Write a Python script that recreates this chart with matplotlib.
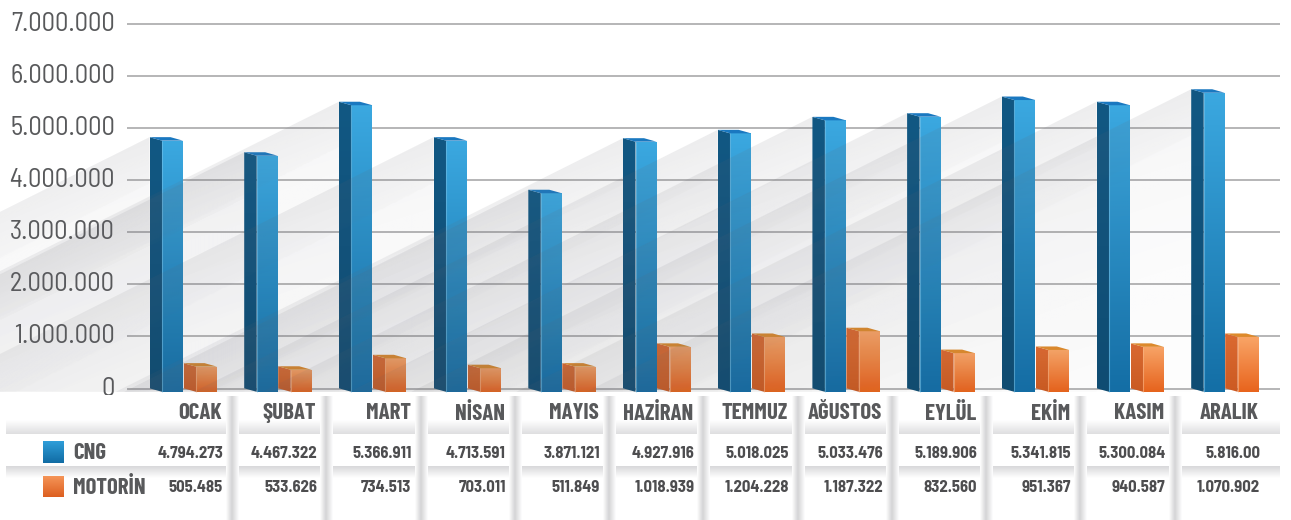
import numpy as np
import matplotlib
matplotlib.use("Agg")
import matplotlib.pyplot as plt
from matplotlib.patches import Polygon
from matplotlib import transforms
import matplotlib.font_manager as fm
from matplotlib.colors import to_rgb

# ---------------- data ----------------
months = ["OCAK", "ŞUBAT", "MART", "NİSAN", "MAYIS", "HAZİRAN",
          "TEMMUZ", "AĞUSTOS", "EYLÜL", "EKİM", "KASIM", "ARALIK"]
series_names = ["CNG", "MOTORİN"]
# bar heights as drawn in the picture
cng_bars = [4760000, 4470000, 5440000, 4760000, 3750000, 4740000,
            4900000, 5150000, 5220000, 5540000, 5440000, 5680000]
motorin_bars = [420000, 360000, 580000, 390000, 420000, 800000,
                990000, 1100000, 680000, 740000, 800000, 990000]
# table texts as printed
cng_table = ["4.794.273", "4.467.322", "5.366.911", "4.713.591", "3.871.121", "4.927.916",
             "5.018.025", "5.033.476", "5.189.906", "5.341.815", "5.300.084", "5.816.00"]
motorin_table = ["505.485", "533.626", "734.513", "703.011", "511.849", "1.018.939",
                 "1.204.228", "1.187.322", "832.560", "951.367", "940.587", "1.070.902"]
y_ticks = [0, 1000000, 2000000, 3000000, 4000000, 5000000, 6000000, 7000000]

# ---------------- fonts ----------------
avail = {f.name for f in fm.fontManager.ttflist}


def pick(*names):
    for n in names:
        if n in avail:
            return n
    return "DejaVu Sans"


F_HEAD = pick("Barlow Condensed", "Asap Condensed", "Archivo Narrow")
F_VAL = pick("Barlow Semi Condensed", "Barlow Condensed", "Asap Condensed")
F_TICK = pick("Barlow Semi Condensed", "Roboto")

W, H = 1291, 520
fig = plt.figure(figsize=(W / 100, H / 100), dpi=100)
ax = fig.add_axes([0, 0, 1, 1])
ax.axis("off")

# layout (pixel -> data helpers; layout only)
XPX0, XSC = 183.0, 94.7
YPX0, YSC = 388.5, 52.07


def xd(px):
    return (px - XPX0) / XSC


def yd(px):
    return (YPX0 - px) / YSC * 1e6


XL, XR = xd(0), xd(W)
YT, YB = yd(0), yd(H)
ax.set_xlim(XL, XR)
ax.set_ylim(YB, YT)

blend = transforms.blended_transform_factory(ax.transData, ax.transAxes)


def yf(px):
    return 1 - px / H


SIDE = 12.5 / XSC
FRONT = 21.0 / XSC
DEPTH = 3.5 / YSC * 1e6
BASE = yd(391.8)


def grad_fill(verts, c_top, c_bot, z, transform=None, n=64, horizontal=False):
    tr = ax.transData if transform is None else transform
    poly = Polygon(verts, closed=True, fc="none", ec="none", transform=tr)
    ax.add_patch(poly)
    xs = [v[0] for v in verts]
    ys = [v[1] for v in verts]
    t = np.linspace(0, 1, n)
    c1, c2 = np.array(to_rgb(c_top)), np.array(to_rgb(c_bot))
    cols = c1[None, :] * (1 - t[:, None]) + c2[None, :] * t[:, None]
    img = cols[:, None, :] if not horizontal else cols[None, :, :]
    im = ax.imshow(img, extent=(min(xs), max(xs), min(ys), max(ys)), origin="upper",
                   aspect="auto", zorder=z, interpolation="bilinear", transform=tr)
    im.set_clip_path(poly)
    return im


def draw_box(xl, xr, top, front_cols, side_cols, top_col, edge_col, z):
    grad_fill([(xl, BASE), (xr, BASE), (xr, top), (xl, top)], front_cols[0], front_cols[1], z)
    grad_fill([(xl - SIDE, BASE + DEPTH), (xl, BASE), (xl, top), (xl - SIDE, top + DEPTH)],
              side_cols[0], side_cols[1], z)
    ax.add_patch(Polygon([(xl - SIDE, top + DEPTH), (xl, top), (xr, top), (xr - SIDE, top + DEPTH)],
                         closed=True, fc=top_col, ec="none", zorder=z + 0.01))
    ax.plot([xl, xl], [BASE, top], color=edge_col, lw=0.8, alpha=0.6, zorder=z + 0.02,
            solid_capstyle="butt")


def draw_shadow(x0, ytop, z):
    m = 0.5 * XSC * 1e6 / YSC  # value per index unit
    xb = x0 - (ytop - BASE) / m
    xe = max(xb, XL)
    ye = ytop - m * (x0 - xe)
    verts = [(x0, ytop), (xe, ye), (xe, BASE), (x0, BASE)]
    poly = Polygon(verts, closed=True, fc="none", ec="none")
    ax.add_patch(poly)
    nx, ny = 240, 240
    gx = np.linspace(xe, x0, nx)
    gy = np.linspace(ytop, BASE, ny)
    X, Y = np.meshgrid(gx, gy)
    line = ytop - m * (x0 - X)
    dpx = np.clip((line - Y) / 1e6 * YSC, 0, None)
    hx = (x0 - X) * XSC  # pixels left of the bar
    alpha = np.where(dpx < 46, 0.12 - 0.045 * dpx / 46, 0.05 * np.exp(-(dpx - 46) / 170))
    alpha = alpha * (0.75 + 0.25 * np.exp(-hx / 200))
    img = np.zeros((ny, nx, 4))
    img[..., 0] = 0.40
    img[..., 1] = 0.40
    img[..., 2] = 0.44
    img[..., 3] = alpha
    im = ax.imshow(img, extent=(xe, x0, BASE, ytop), origin="upper", aspect="auto",
                   zorder=z, interpolation="bilinear")
    im.set_clip_path(poly)


# ---------------- grid + y labels ----------------
ax.hlines(y_ticks, xd(127), xd(1280), colors="#b5b5b7", lw=1.4, zorder=1)
for v in y_ticks:
    lab = "0" if v == 0 else f"{v:,}".replace(",", ".")
    ax.text(xd(115), v, lab, ha="right", va="center", fontsize=19, family=F_TICK,
            color="#58595b", zorder=1)

# ---------------- bars ----------------
for i in range(len(months)):
    c_top = cng_bars[i]
    o_top = motorin_bars[i]
    z = 10 + 3 * i
    draw_shadow(i - FRONT - SIDE, c_top + DEPTH, z)
    draw_box(i - FRONT, i, c_top, ("#3ba8e0", "#146fa6"), ("#125883", "#0e4c73"),
             "#1a78c0", "#74c2ea", z + 1)
    draw_box(i + 13 / XSC, i + 34 / XSC, o_top, ("#f9a466", "#e8641d"), ("#db6a31", "#cc5a22"),
             "#de8a2b", "#fbb98a", z + 1.5)

# ---------------- table ----------------
ax.add_patch(plt.Rectangle((XL, 0), XR - XL, yf(395), transform=blend, fc="white", ec="none",
                           zorder=50))
grad_fill([(xd(6), yf(434)), (xd(1280), yf(434)), (xd(1280), yf(420)), (xd(6), yf(420))],
          "#ffffff", "#dedee0", 51, transform=blend)
grad_fill([(xd(6), yf(478)), (xd(1280), yf(478)), (xd(1280), yf(466)), (xd(6), yf(466))],
          "#d8d8da", "#ffffff", 51, transform=blend)
for k in range(11):
    sx = 232 + 94.27 * k
    grad_fill([(xd(sx - 6), yf(520)), (xd(sx), yf(520)), (xd(sx), yf(396)), (xd(sx - 6), yf(396))],
              "#ffffff", "#d4d4d6", 52, transform=blend, horizontal=True)
    grad_fill([(xd(sx), yf(520)), (xd(sx + 7), yf(520)), (xd(sx + 7), yf(396)), (xd(sx), yf(396))],
              "#d4d4d6", "#ffffff", 52, transform=blend, horizontal=True)

grad_fill([(xd(43), yf(463)), (xd(64), yf(463)), (xd(64), yf(441)), (xd(43), yf(441))],
          "#2f9ed9", "#116ca4", 60, transform=blend)
grad_fill([(xd(43), yf(497)), (xd(64), yf(497)), (xd(64), yf(476)), (xd(43), yf(476))],
          "#f6975a", "#dd5f20", 60, transform=blend)
ax.text(xd(73), yf(453), series_names[0], transform=blend, ha="left", va="center",
        fontsize=16.5, family=F_HEAD, weight="bold", color="#58595b", zorder=61)
ax.text(xd(73), yf(487), series_names[1], transform=blend, ha="left", va="center",
        fontsize=16.5, family=F_HEAD, weight="bold", color="#58595b", zorder=61)

for i, name in enumerate(months):
    xr = xd(222 + 94.27 * i)
    ax.text(xr, yf(413), name, transform=blend, ha="right", va="center", fontsize=16.5,
            family=F_HEAD, weight="bold", color="#58595b", zorder=61)
    ax.text(xr + 1 / XSC, yf(454), cng_table[i], transform=blend, ha="right", va="center",
            fontsize=12, family=F_VAL, weight="bold", color="#4d4d4f", zorder=61)
    ax.text(xr + 1 / XSC, yf(488), motorin_table[i], transform=blend, ha="right", va="center",
            fontsize=12, family=F_VAL, weight="bold", color="#4d4d4f", zorder=61)

ax.set_xlim(XL, XR)
ax.set_ylim(YB, YT)
fig.savefig("out.png", dpi=100, facecolor="white")
